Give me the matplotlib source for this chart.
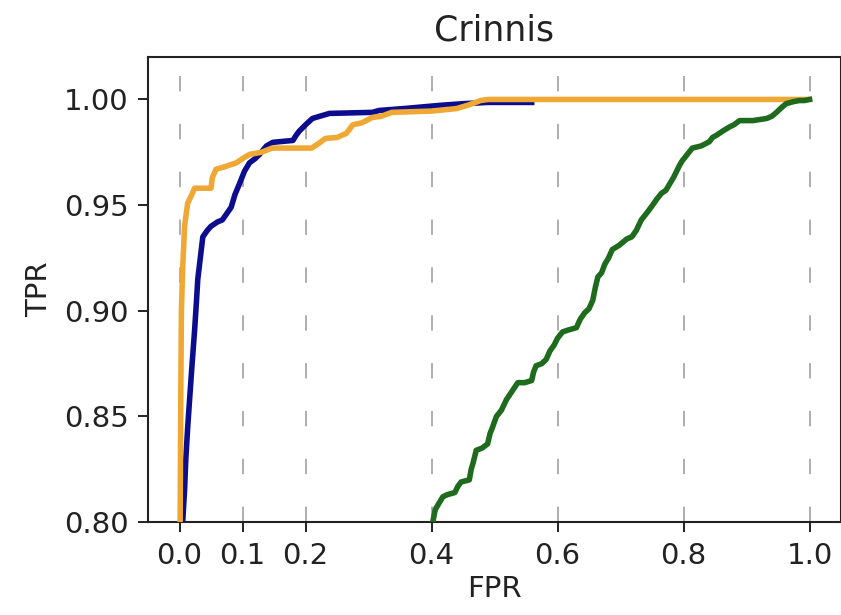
import matplotlib
matplotlib.use("Agg")
import matplotlib.pyplot as plt

# ROC curve points (false positive rate, true positive rate)
blue_fpr = [0.004, 0.005, 0.008, 0.010, 0.013, 0.016, 0.020, 0.024, 0.027, 0.029, 0.033,
            0.037, 0.044, 0.050, 0.060, 0.068, 0.075, 0.082, 0.088, 0.095, 0.103, 0.111,
            0.120, 0.127, 0.138, 0.148, 0.165, 0.180, 0.185, 0.190, 0.200, 0.211, 0.222,
            0.238, 0.306, 0.317, 0.360, 0.413, 0.450, 0.490, 0.559]
blue_tpr = [0.790, 0.800, 0.815, 0.830, 0.845, 0.858, 0.875, 0.891, 0.905, 0.915, 0.925,
            0.935, 0.938, 0.940, 0.942, 0.943, 0.946, 0.949, 0.955, 0.960, 0.966, 0.970,
            0.972, 0.974, 0.978, 0.9797, 0.9802, 0.9806, 0.983, 0.985, 0.988, 0.991, 0.992,
            0.9934, 0.9939, 0.9948, 0.9958, 0.9972, 0.9980, 0.9986, 0.9986]

orange_fpr = [0.000, 0.001, 0.002, 0.003, 0.005, 0.008, 0.013, 0.018, 0.024, 0.050, 0.052,
              0.058, 0.070, 0.090, 0.100, 0.111, 0.130, 0.147, 0.210, 0.220, 0.232, 0.250,
              0.265, 0.275, 0.290, 0.306, 0.320, 0.337, 0.400, 0.440, 0.460, 0.478, 0.490,
              1.000]
orange_tpr = [0.780, 0.800, 0.860, 0.900, 0.920, 0.940, 0.951, 0.954, 0.958, 0.958, 0.963,
              0.967, 0.968, 0.970, 0.972, 0.974, 0.975, 0.977, 0.977, 0.979, 0.9816, 0.982,
              0.984, 0.988, 0.989, 0.9915, 0.992, 0.9939, 0.9945, 0.9957, 0.9975, 0.9995,
              1.000, 1.000]

green_fpr = [0.398, 0.402, 0.406, 0.410, 0.418, 0.425, 0.437, 0.442, 0.447, 0.460, 0.463,
             0.466, 0.471, 0.480, 0.489, 0.493, 0.497, 0.503, 0.511, 0.519, 0.528, 0.537,
             0.548, 0.559, 0.562, 0.566, 0.575, 0.582, 0.588, 0.595, 0.600, 0.608, 0.618,
             0.630, 0.636, 0.643, 0.650, 0.656, 0.660, 0.664, 0.670, 0.675, 0.681, 0.687,
             0.698, 0.710, 0.718, 0.725, 0.733, 0.741, 0.746, 0.751, 0.758, 0.765, 0.772,
             0.778, 0.784, 0.789, 0.794, 0.798, 0.806, 0.814, 0.828, 0.841, 0.846, 0.852,
             0.862, 0.873, 0.880, 0.889, 0.910, 0.932, 0.940, 0.948, 0.955, 0.963, 0.975,
             0.984, 0.992, 1.000]
green_tpr = [0.795, 0.800, 0.806, 0.808, 0.812, 0.813, 0.814, 0.817, 0.819, 0.820, 0.825,
             0.828, 0.834, 0.835, 0.837, 0.842, 0.845, 0.850, 0.853, 0.858, 0.862, 0.866,
             0.866, 0.867, 0.871, 0.874, 0.875, 0.877, 0.881, 0.884, 0.887, 0.890, 0.891,
             0.892, 0.896, 0.899, 0.901, 0.905, 0.911, 0.916, 0.918, 0.922, 0.925, 0.929,
             0.931, 0.934, 0.935, 0.938, 0.943, 0.946, 0.948, 0.950, 0.953, 0.9556, 0.957,
             0.960, 0.963, 0.966, 0.969, 0.971, 0.974, 0.977, 0.978, 0.980, 0.982, 0.983,
             0.985, 0.987, 0.988, 0.990, 0.990, 0.991, 0.992, 0.994, 0.996, 0.998, 0.999,
             0.9995, 0.9995, 1.000]

x_ticks = [0.0, 0.1, 0.2, 0.4, 0.6, 0.8, 1.0]
y_ticks = [0.80, 0.85, 0.90, 0.95, 1.00]

plt.rcParams["font.family"] = ["DejaVu Sans"]

fig = plt.figure(figsize=(8.41, 6.15), dpi=100)
ax = fig.add_axes([0.176, 0.151, 0.824, 0.756])

for xv in x_ticks:
    line = ax.axvline(xv, color="#a8a8a8", lw=1.3, zorder=1)
    line.set_dashes([8.5, 18.0])

ax.plot(blue_fpr, blue_tpr, color="#0c0c8e", lw=4.0, zorder=3)
ax.plot(orange_fpr, orange_tpr, color="#f0a834", lw=4.0, zorder=4)
ax.plot(green_fpr, green_tpr, color="#1e6b1e", lw=4.0, zorder=5)

ax.set_xlim(-0.05, 1.05)
ax.set_ylim(0.80, 1.02)
ax.set_xticks(x_ticks)
ax.set_xticklabels([f"{v:.1f}" for v in x_ticks])
ax.set_yticks(y_ticks)
ax.set_yticklabels([f"{v:.2f}" for v in y_ticks])
ax.tick_params(labelsize=21, length=7, width=1.4, colors="#222222", pad=7)
for sp in ax.spines.values():
    sp.set_linewidth(1.5)
    sp.set_color("#222222")

ax.set_title("Crinnis", fontsize=25, pad=12, color="#222222")
ax.set_xlabel("FPR", fontsize=21, labelpad=4, color="#222222")
ax.set_ylabel("TPR", fontsize=21, labelpad=8, color="#222222")

fig.savefig("out.png", dpi=100, facecolor="white")
